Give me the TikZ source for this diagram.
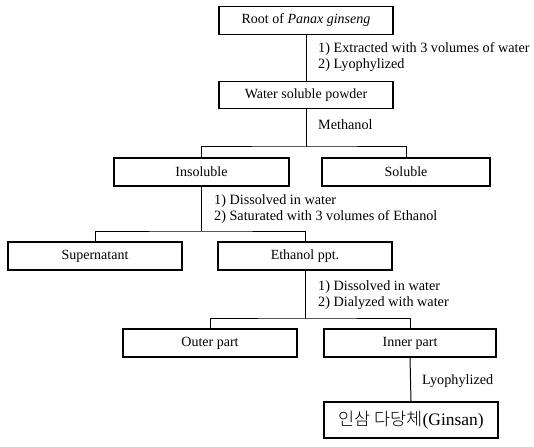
\documentclass[tikz,border=0pt]{standalone}
\usepackage{fontspec}
\setmainfont{Liberation Serif}
\newfontfamily\krfont{Noto Sans CJK KR Light}
\begin{document}
\begin{tikzpicture}[x=1pt,y=-1pt,
  box/.style={draw,line width=1.3pt,inner sep=0pt,minimum height=28pt,font=\fontsize{14}{16}\selectfont},
  lbl/.style={anchor=west,inner sep=0pt,font=\fontsize{14.2}{16}\selectfont},
  conn/.style={line width=1pt}]
\useasboundingbox (0,0) rectangle (534,446);
\node[box,minimum width=174pt] (root) at (306,20.5) {Root of \textit{Panax ginseng}};
\node[box,minimum width=174pt,minimum height=27pt] (wsp) at (306,95) {Water soluble powder};
\node[box,minimum width=175pt] (insol) at (201.5,172) {Insoluble};
\node[box,minimum width=168pt] (sol) at (406,172) {Soluble};
\node[box,minimum width=174pt] (super) at (95,256) {Supernatant};
\node[box,minimum width=174pt] (eth) at (305,256) {Ethanol ppt.};
\node[box,minimum width=174pt] (outer) at (210,343) {Outer part};
\node[box,minimum width=172pt] (inner) at (410,343) {Inner part};
\node[box,minimum width=174pt,minimum height=36pt,font=\fontsize{17.5}{19}\selectfont] (gin) at (411,420) {{\krfont 인삼 다당체}(Ginsan)};
% labels
\node[lbl] (t1) at (318,49) {1) Extracted with 3 volumes of water};
\node[lbl] (t2) at (318,65) {2) Lyophylized};
\node[lbl] (t3) at (318,125) {Methanol};
\node[lbl] (t4) at (214,201) {1) Dissolved in water};
\node[lbl] (t5) at (214,217) {2) Saturated with 3 volumes of Ethanol};
\node[lbl] (t6) at (318,287) {1) Dissolved in water};
\node[lbl] (t7) at (318,303) {2) Dialyzed with water};
\node[lbl] (t8) at (422,381) {Lyophylized};
% junctions
\coordinate (j1) at (306,147);
\coordinate (j2) at (201.5,231);
\coordinate (j3) at (305,318);
% connectors
\draw[conn] (root.south) -- (wsp.north);
\draw[conn] (wsp.south) -- (j1);
\draw[conn] (insol.north) |- (j1) -| (sol.north);
\draw[conn] (insol.south) -- (j2);
\draw[conn] (super.north) |- (j2) -| (eth.north);
\draw[conn] (eth.south) -- (j3);
\draw[conn] (outer.north) |- (j3) -| (inner.north);
\draw[conn] (inner.south) -- (gin.north);
\end{tikzpicture}
\end{document}
